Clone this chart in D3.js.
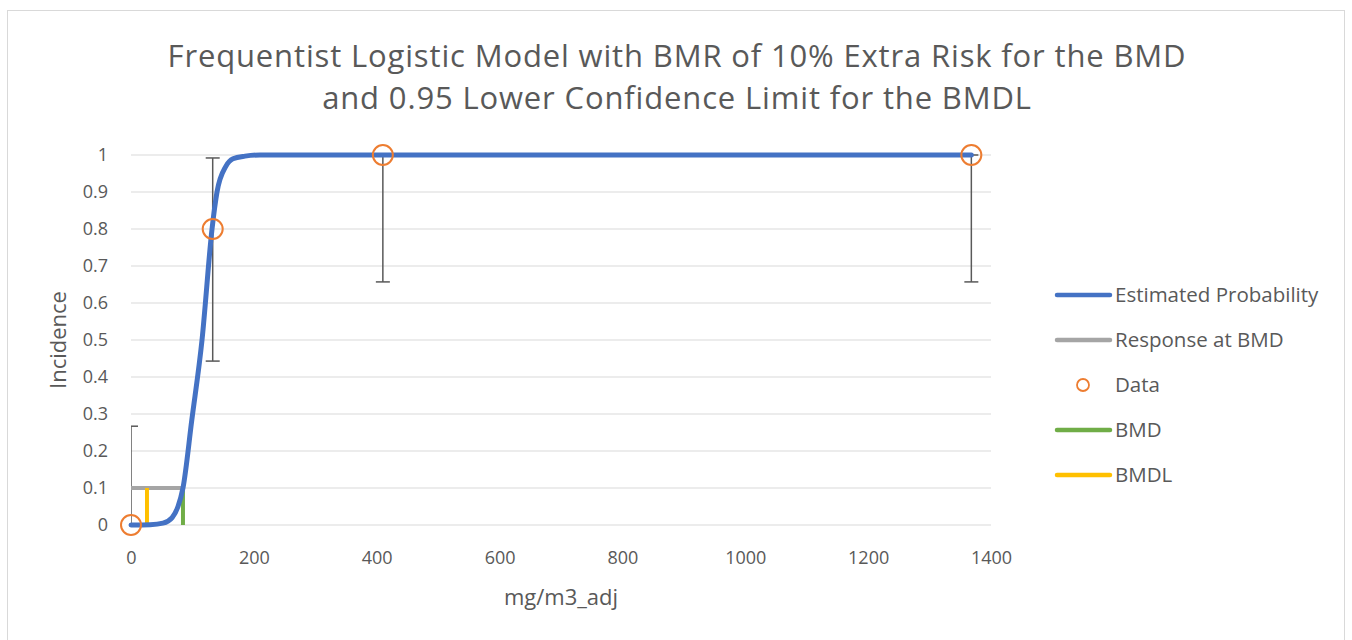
<!DOCTYPE html>
<html>
<head>
<meta charset="utf-8">
<script src="https://cdn.jsdelivr.net/npm/d3@7"></script>
<style>
  body { margin: 0; background: #fff; }
  svg { font-family: "Open Sans", sans-serif; }
</style>
</head>
<body>
<div id="graphic"></div>
<script>
// values
var titleLines = ["Frequentist Logistic Model with BMR of 10% Extra Risk for the BMD",
                  "and 0.95 Lower Confidence Limit for the BMDL"];
var xTicks = [0, 200, 400, 600, 800, 1000, 1200, 1400];
var yTicks = [0, 0.1, 0.2, 0.3, 0.4, 0.5, 0.6, 0.7, 0.8, 0.9, 1];

// estimated probability curve
var curveDose = [0, 31, 52, 67, 76.5, 84.6, 99, 115.6, 131.9, 140, 154.6, 166, 185.6, 210, 400, 1368];
var curveProb = [0, 0.001, 0.005, 0.02, 0.05, 0.1, 0.284, 0.5, 0.8, 0.9, 0.97, 0.99, 0.997, 1, 1, 1];

// observed data with confidence limits
var dataDose = [0, 133, 410, 1368];
var dataProb = [0, 0.8, 1, 1];
var dataLow = [0, 0.443, 0.657, 0.657];
var dataHigh = [0.267, 0.992, 1, 1];

var bmd = 84.6, bmdl = 26, bmr = 0.1;

var legendNames = ["Estimated Probability", "Response at BMD", "Data", "BMD", "BMDL"];
var legendColors = ["#4472C4", "#A5A5A5", "#ED7D31", "#70AD47", "#FFC000"];

var W = 1352, H = 640;
var margin = {top: 155, right: 361, bottom: 115, left: 131},
    width = W - margin.left - margin.right,
    height = H - margin.top - margin.bottom;

var svg = d3.select("#graphic").append("svg")
  .attr("width", W).attr("height", H);

svg.append("rect")
  .attr("x", 7.5).attr("y", 10.5).attr("width", 1337).attr("height", 640)
  .attr("fill", "#fff").attr("stroke", "#D9D9D9");

var title = svg.append("text")
  .attr("x", 677).attr("y", 67)
  .attr("text-anchor", "middle")
  .attr("fill", "#595959").style("font-size", "31px")
  .style("letter-spacing", "0.85px");
titleLines.forEach(function(t, i) {
  title.append("tspan").attr("x", 677).attr("dy", i ? 42 : 0).text(t);
});

var g = svg.append("g")
  .attr("transform", "translate(" + margin.left + "," + margin.top + ")");

var x = d3.scaleLinear().domain([0, 1400]).range([0, width]);
var y = d3.scaleLinear().domain([0, 1]).range([height, 0]);

g.append("defs").append("clipPath").attr("id", "plot")
  .append("rect").attr("width", width).attr("height", height + 2).attr("y", -2);

// gridlines
g.selectAll(".grid").data(yTicks).enter().append("line")
  .attr("x1", 0).attr("x2", width)
  .attr("y1", function(d) { return y(d); }).attr("y2", function(d) { return y(d); })
  .attr("stroke", "#D9D9D9").attr("stroke-width", 1);

// axes (labels only)
var xAxis = g.append("g")
  .attr("transform", "translate(0," + height + ")")
  .call(d3.axisBottom(x).tickValues(xTicks).tickSize(0).tickPadding(26).tickFormat(d3.format("d")));
var yAxis = g.append("g")
  .call(d3.axisLeft(y).tickValues(yTicks).tickSize(0).tickPadding(23)
        .tickFormat(function(d) { return String(+d.toFixed(1)); }));
[xAxis, yAxis].forEach(function(a) {
  a.select(".domain").remove();
  a.selectAll("text").attr("fill", "#595959")
    .style("font-family", "'Open Sans', sans-serif").style("font-size", "18px");
});

svg.append("text")
  .attr("x", margin.left + width / 2).attr("y", 605)
  .attr("text-anchor", "middle").attr("fill", "#595959")
  .style("font-size", "22px").text("mg/m3_adj");
svg.append("text")
  .attr("transform", "translate(66," + (margin.top + height / 2) + ") rotate(-90)")
  .attr("text-anchor", "middle").attr("fill", "#595959")
  .style("font-size", "22px").text("Incidence");

var plot = g.append("g").attr("clip-path", "url(#plot)");

// error bars
var capW = 7;
dataDose.forEach(function(d, i) {
  var eb = plot.append("g").attr("stroke", "#595959").attr("stroke-width", 1.5);
  eb.append("line").attr("x1", x(d)).attr("x2", x(d))
    .attr("y1", y(dataLow[i])).attr("y2", y(dataHigh[i]));
  [dataLow[i], dataHigh[i]].forEach(function(v) {
    eb.append("line").attr("x1", x(d) - capW).attr("x2", x(d) + capW)
      .attr("y1", y(v)).attr("y2", y(v));
  });
});

// response at BMD
plot.append("line")
  .attr("x1", x(0)).attr("x2", x(bmd)).attr("y1", y(bmr)).attr("y2", y(bmr))
  .attr("stroke", "#A5A5A5").attr("stroke-width", 4);
// BMDL
plot.append("line")
  .attr("x1", x(bmdl)).attr("x2", x(bmdl)).attr("y1", y(0)).attr("y2", y(bmr))
  .attr("stroke", "#FFC000").attr("stroke-width", 4);
// BMD
plot.append("line")
  .attr("x1", x(bmd)).attr("x2", x(bmd)).attr("y1", y(0)).attr("y2", y(bmr))
  .attr("stroke", "#70AD47").attr("stroke-width", 4);

// estimated probability
var line = d3.line()
  .x(function(d, i) { return x(curveDose[i]); })
  .y(function(d, i) { return y(curveProb[i]); })
  .curve(d3.curveMonotoneX);
g.append("path").datum(curveDose)
  .attr("d", line).attr("fill", "none")
  .attr("stroke", "#4472C4").attr("stroke-width", 5)
  .attr("stroke-linecap", "round").attr("stroke-linejoin", "round");

// data points
g.selectAll(".pt").data(dataDose).enter().append("circle")
  .attr("cx", function(d) { return x(d); })
  .attr("cy", function(d, i) { return y(dataProb[i]); })
  .attr("r", 10).attr("fill", "none")
  .attr("stroke", "#ED7D31").attr("stroke-width", 2);

// legend
var leg = svg.append("g").attr("transform", "translate(1057,295)");
legendNames.forEach(function(n, i) {
  var row = leg.append("g").attr("transform", "translate(0," + (i * 45) + ")");
  if (n === "Data") {
    row.append("circle").attr("cx", 26).attr("cy", 0).attr("r", 6)
      .attr("fill", "none").attr("stroke", legendColors[i]).attr("stroke-width", 1.8);
  } else {
    row.append("line").attr("x1", 0).attr("x2", 53)
      .attr("stroke", legendColors[i]).attr("stroke-width", 4.5)
      .attr("stroke-linecap", "round");
  }
  row.append("text").attr("x", 58).attr("dy", "0.35em")
    .attr("fill", "#595959").style("font-size", "20.5px").text(n);
});
</script>
</body>
</html>
